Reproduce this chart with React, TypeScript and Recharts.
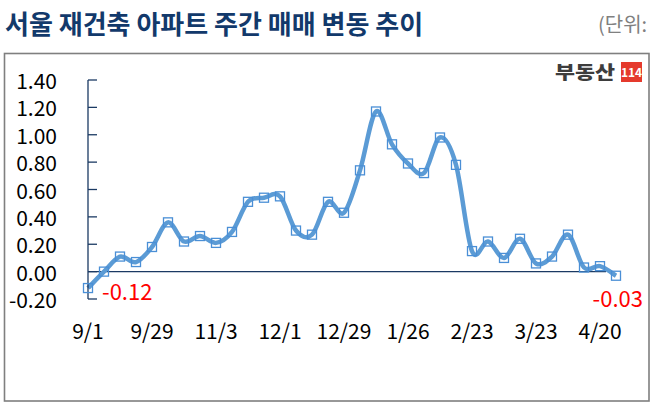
import React from 'react';
import {
  LineChart, Line, XAxis, YAxis, ReferenceLine, LabelList,
} from 'recharts';

// 주간 기준일 (추석 주 제외)
const weeks = [
  '9/1', '9/8', '9/15', '9/22', '9/29', '10/13', '10/20', '10/27',
  '11/3', '11/10', '11/17', '11/24', '12/1', '12/8', '12/15', '12/22',
  '12/29', '1/5', '1/12', '1/19', '1/26', '2/2', '2/9', '2/16',
  '2/23', '3/2', '3/9', '3/16', '3/23', '3/30', '4/6', '4/13',
  '4/20', '4/27',
];

const changes = [
  -0.12, 0.0, 0.11, 0.07, 0.18, 0.36, 0.22, 0.26,
  0.21, 0.29, 0.51, 0.54, 0.55, 0.3, 0.27, 0.51,
  0.43, 0.74, 1.17, 0.93, 0.79, 0.72, 0.98, 0.78,
  0.15, 0.22, 0.1, 0.24, 0.06, 0.11, 0.27, 0.03,
  0.04, -0.03,
];

const yTicks = [-0.2, 0, 0.2, 0.4, 0.6, 0.8, 1.0, 1.2, 1.4];

const data = weeks.map((w, i) => ({ week: w, val: changes[i] }));

const FONT = '"Noto Sans CJK KR", "Noto Sans", sans-serif';
const NAVY = '#1b3a63';
const BLUE = '#5b9bd5';

// 엑셀 '곡선' 스타일 (Catmull-Rom -> Bezier)
function excelSmooth(context: any) {
  let pts: number[][] = [];
  return {
    areaStart() {},
    areaEnd() {},
    lineStart() { pts = []; },
    point(x: number, y: number) { pts.push([+x, +y]); },
    lineEnd() {
      if (!pts.length) return;
      context.moveTo(pts[0][0], pts[0][1]);
      for (let i = 0; i < pts.length - 1; i++) {
        const p0 = pts[i - 1] || pts[i];
        const p1 = pts[i];
        const p2 = pts[i + 1];
        const p3 = pts[i + 2] || p2;
        context.bezierCurveTo(
          p1[0] + (p2[0] - p0[0]) / 6, p1[1] + (p2[1] - p0[1]) / 6,
          p2[0] - (p3[0] - p1[0]) / 6, p2[1] - (p3[1] - p1[1]) / 6,
          p2[0], p2[1],
        );
      }
    },
  };
}

const YTick = (p: any) => (
  <g>
    <line x1={p.x + 31} x2={p.x + 40} y1={p.y} y2={p.y} stroke={NAVY} strokeWidth={1.3} />
    <text x={p.x} y={p.y} textAnchor="end" dominantBaseline="central"
      fontFamily={FONT} fontSize={21} fill="#000">
      {Number(p.payload.value).toFixed(2)}
    </text>
  </g>
);

const XTick = (p: any) => (
  <text x={p.x} y={p.y} textAnchor="middle" dominantBaseline="central"
    fontFamily={FONT} fontSize={21} fill="#000">
    {p.payload.value}
  </text>
);

const Square = (p: any) => {
  if (p.cx == null || p.cy == null) return null;
  return (
    <rect key={p.index} x={p.cx - 4.5} y={p.cy - 4.5} width={9} height={9}
      fill="none" stroke="#4a8fd6" strokeWidth={1.3} />
  );
};

const EndLabel = (p: any) => {
  const { x, y, index, value } = p;
  if (index === 0) {
    return (
      <text x={x + 14} y={y + 2} dominantBaseline="central" fontFamily={FONT}
        fontSize={22} fill="#ff0000">{Number(value).toFixed(2)}</text>
    );
  }
  if (index === changes.length - 1) {
    return (
      <text x={x + 27} y={y + 21} textAnchor="end" dominantBaseline="central"
        fontFamily={FONT} fontSize={22} fill="#ff0000">{Number(value).toFixed(2)}</text>
    );
  }
  return null;
};

const ZeroLine = (p: any) => (
  <line x1={p.x1} y1={p.y1} x2={p.x2 - 10} y2={p.y2} stroke={NAVY} strokeWidth={1.3} />
);

export default function App() {
  return (
    <div style={{ position: 'relative', width: 650, height: 408, background: '#fff' }}>
      <style>{'body{margin:0}'}</style>
      <svg width={650} height={408} style={{ position: 'absolute', left: 0, top: 0 }}>
        <text x={5} y={34} fontFamily={FONT} fontWeight={700} fontSize={26} fill="#12396b">
          서울 재건축 아파트 주간 매매 변동 추이
        </text>
        <text x={598} y={32} fontFamily={FONT} fontSize={20} fill="#808080">(단위:</text>
        <rect x={4.5} y={53.5} width={644.5} height={347.5} fill="none" stroke="#7f7f7f" strokeWidth={1.6} />
        <text x={555} y={79} fontFamily={FONT} fontWeight={900} fontSize={18}
          fill="#3d3d3d" textLength={60} lengthAdjust="spacingAndGlyphs">부동산</text>
        <rect x={621} y={62} width={21} height={20} fill="#e53a2d" />
        <text x={631.5} y={77} textAnchor="middle" fontFamily={FONT} fontWeight={700}
          fontSize={12} fill="#fff">114</text>
      </svg>
      <div style={{ position: 'absolute', left: 0, top: 0 }}>
        <LineChart width={650} height={408} data={data}
          margin={{ top: 80, right: 34, bottom: 69, left: 18 }}>
          <XAxis dataKey="week" interval={3} axisLine={false} tickLine={false}
            tickSize={0} tickMargin={31} height={40} tick={<XTick />} />
          <YAxis domain={[-0.2, 1.4]} ticks={yTicks} width={70} tickLine={false}
            tickSize={0} tickMargin={31} axisLine={{ stroke: NAVY, strokeWidth: 1.3 }}
            tick={<YTick />} allowDecimals />
          <ReferenceLine y={0} shape={<ZeroLine />} />
          <Line dataKey="val" type={excelSmooth as any} stroke={BLUE} strokeWidth={4.5}
            dot={<Square />} activeDot={false} isAnimationActive={false}>
            <LabelList dataKey="val" content={<EndLabel />} />
          </Line>
        </LineChart>
      </div>
    </div>
  );
}
